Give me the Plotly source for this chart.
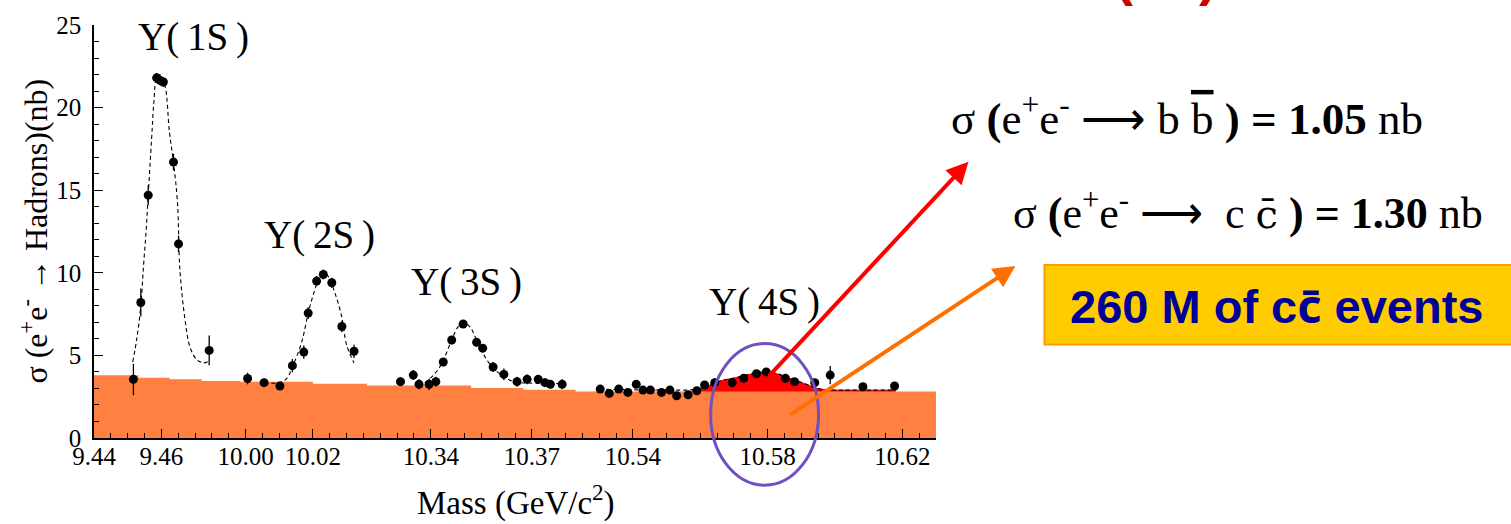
import plotly.graph_objects as go

# ---------------- data (mass in GeV/c^2, cross-section in nb) ----------------
# broken mass axis: each segment starts at a labelled mass, 0.005 GeV per minor tick
seg_start_mass = [9.44, 10.00, 10.34, 10.54]
seg_start_pos = [0, 9, 20, 32]
mass_per_tick = 0.005

tick_labels = ["9.44", "9.46", "10.00", "10.02", "10.34", "10.37", "10.54", "10.58", "10.62"]
tick_masses = [9.44, 9.46, 10.00, 10.02, 10.34, 10.37, 10.54, 10.58, 10.62]

# measured points
y1s_mass = [9.4517, 9.4539, 9.4561, 9.4586, 9.4596, 9.4606, 9.4636, 9.4651, 9.4742]
y1s_sigma = [3.55, 8.2, 14.7, 21.8, 21.65, 21.55, 16.7, 11.75, 5.3]
y1s_err = [0.95, 0.85, 0.6, 0.3, 0.3, 0.3, 0.5, 0.5, 0.9]

y2s_mass = [10.0006, 10.0055, 10.0102, 10.0139, 10.0173, 10.0186, 10.0211, 10.0231,
            10.0256, 10.0286, 10.0322]
y2s_sigma = [3.6, 3.35, 3.15, 4.38, 5.2, 7.56, 9.5, 9.9, 9.4, 6.75, 5.25]
y2s_err = [0.35, 0.25, 0.25, 0.4, 0.4, 0.35, 0.3, 0.3, 0.3, 0.35, 0.4]

y3s_mass = [10.3310, 10.3348, 10.3365, 10.3395, 10.3415, 10.3437, 10.3462, 10.3496,
            10.3536, 10.3554, 10.3585, 10.3617, 10.3656, 10.3686, 10.3719, 10.3739,
            10.3755, 10.3790]
y3s_sigma = [3.41, 3.81, 3.25, 3.25, 3.41, 4.6, 5.93, 6.9, 5.79, 5.44, 4.3, 3.85,
             3.41, 3.55, 3.55, 3.35, 3.25, 3.25]
y3s_err = [0.25, 0.3, 0.3, 0.35, 0.3, 0.25, 0.25, 0.2, 0.25, 0.25, 0.3, 0.35,
           0.3, 0.3, 0.25, 0.25, 0.2, 0.3]

y4s_mass = [10.5303, 10.5330, 10.5358, 10.5385, 10.5410, 10.5430, 10.5452, 10.5485,
            10.5510, 10.5530, 10.5564, 10.5590, 10.5613, 10.5643, 10.5695, 10.5729,
            10.5767, 10.5796, 10.5853, 10.5880, 10.5940, 10.5986, 10.6083, 10.6177]
y4s_sigma = [2.96, 2.7, 2.96, 2.76, 3.25, 2.9, 2.9, 2.76, 2.9, 2.56, 2.62, 2.86,
             3.21, 3.35, 3.35, 3.61, 3.89, 4.0, 3.61, 3.41, 3.35, 3.81, 3.1, 3.15]
y4s_err = [0.2, 0.2, 0.2, 0.2, 0.2, 0.2, 0.2, 0.2, 0.2, 0.2, 0.2, 0.2,
           0.2, 0.25, 0.2, 0.2, 0.2, 0.2, 0.2, 0.2, 0.2, 0.55, 0.2, 0.2]

# fitted line shapes (dashed)
fit1_mass = [9.4515, 9.4527, 9.4539, 9.4547, 9.4555, 9.4561, 9.4571, 9.4578, 9.4586,
             9.4596, 9.4611, 9.4624, 9.4636, 9.4648, 9.4655, 9.4670, 9.4685, 9.4705,
             9.4725, 9.4740]
fit1_sigma = [4.6, 6.0, 8.0, 10.4, 12.6, 14.7, 18.1, 20.4, 21.8, 22.0, 21.3, 18.5,
              16.7, 14.2, 10.2, 7.2, 5.5, 4.75, 4.55, 4.65]
fit2_mass = [10.0055, 10.0100, 10.0122, 10.0142, 10.0167, 10.0186, 10.0203, 10.0219,
             10.0231, 10.0245, 10.0265, 10.0285, 10.0300, 10.0322]
fit2_sigma = [3.35, 3.35, 3.6, 4.45, 5.83, 7.56, 8.8, 9.7, 10.0, 9.8, 8.8, 7.4, 5.64, 4.54]
fit3_mass = [10.3382, 10.3402, 10.3422, 10.3442, 10.3462, 10.3481, 10.3496, 10.3516,
             10.3536, 10.3560, 10.3585, 10.3615, 10.3640, 10.3669, 10.3793]
fit3_sigma = [3.35, 3.69, 4.15, 4.94, 5.93, 6.73, 6.98, 6.73, 5.93, 4.94, 4.24, 3.75,
              3.45, 3.35, 3.3]
fit4_mass = [10.5300, 10.5400, 10.5500, 10.5575, 10.5610, 10.5658, 10.5705, 10.5755,
             10.5795, 10.5835, 10.5875, 10.5915, 10.5945, 10.5975, 10.6050, 10.6180]
fit4_sigma = [2.95, 2.92, 2.9, 2.92, 3.05, 3.45, 3.65, 3.89, 4.0, 3.85, 3.55, 3.25,
              3.02, 2.92, 2.9, 2.9]
bb_start_mass = 10.5575  # b-bbar excess above the continuum

# continuum (stepped band)
cont_edges_mass = [9.44, 9.4532, 9.4625, 9.4720, 9.4833, 10.0200, 10.0360, 10.3520,
                   10.3675, 10.3830, 10.6300]
cont_sigma = [3.8, 3.65, 3.55, 3.45, 3.4, 3.28, 3.18, 3.03, 2.92, 2.82]

peak_labels = ["Υ(\u20091S\u2009)", "Υ(\u20092S\u2009)", "Υ(\u20093S\u2009)", "Υ(\u20094S\u2009)"]
peak_label_mass = [9.4694, 10.0220, 10.3507, 10.5791]
peak_label_sigma = [24.25, 12.3, 9.45, 8.25]


def pos(m):
    """position of a mass on the broken axis"""
    k = 0
    for i, s in enumerate(seg_start_mass):
        if m >= s - 0.1:
            k = i
    return seg_start_pos[k] + (m - seg_start_mass[k]) / mass_per_tick


def P(ms):
    return [pos(m) for m in ms]


# ---------------- figure ----------------
L, R_EDGE, T, B = 94, 936.5, 18, 438
W, H = R_EDGE - L, B - T
SERIF = "Liberation Serif, Times New Roman, serif"
SANS = "Liberation Sans, Arial, sans-serif"


def px(x):
    return (x - L) / W


def py(y):
    return (B - y) / H


fig = go.Figure()

# red b-bbar excess (drawn first, continuum covers its lower part)
bb_m = [m for m in fit4_mass if m >= bb_start_mass]
bb_s = [s for m, s in zip(fit4_mass, fit4_sigma) if m >= bb_start_mass]
fig.add_trace(go.Scatter(x=P(bb_m), y=bb_s, mode="lines", line=dict(color="#FF0000", width=1, shape="spline"),
                         fill="tozeroy", fillcolor="#FF0000", hoverinfo="skip"))

# continuum band
fig.add_trace(go.Scatter(x=P(cont_edges_mass), y=cont_sigma + [cont_sigma[-1]], mode="lines",
                         line=dict(color="#FF8040", width=0, shape="hv"),
                         fill="tozeroy", fillcolor="#FF8040", hoverinfo="skip"))

# fits
for fm, fs in [(fit1_mass, fit1_sigma), (fit2_mass, fit2_sigma), (fit3_mass, fit3_sigma), (fit4_mass, fit4_sigma)]:
    fig.add_trace(go.Scatter(x=P(fm), y=fs, mode="lines",
                             line=dict(color="black", width=1.1, dash="4px,3px", shape="spline"),
                             hoverinfo="skip"))

# data points
for dm, ds, de in [(y1s_mass, y1s_sigma, y1s_err), (y2s_mass, y2s_sigma, y2s_err),
                   (y3s_mass, y3s_sigma, y3s_err), (y4s_mass, y4s_sigma, y4s_err)]:
    fig.add_trace(go.Scatter(x=P(dm), y=ds, mode="markers",
                             marker=dict(color="black", size=9),
                             error_y=dict(type="data", array=de, color="black", thickness=1.3, width=0)))

annotations = []
for lab, m, s in zip(peak_labels, peak_label_mass, peak_label_sigma):
    annotations.append(dict(x=pos(m), y=s, xref="x", yref="y", text=lab, showarrow=False,
                            font=dict(family=SERIF, size=39, color="black"),
                            xanchor="center", yanchor="middle"))

# axis titles
annotations.append(dict(x=px(33), y=py(228), xref="paper", yref="paper", textangle=-90,
                        text="σ (e<sup>+</sup>e<sup>-</sup> → Hadrons)(nb)", showarrow=False,
                        font=dict(family=SERIF, size=32, color="black"), xanchor="center", yanchor="middle"))
annotations.append(dict(x=px(516), y=py(502), xref="paper", yref="paper",
                        text="Mass (GeV/c<sup>2</sup>)", showarrow=False,
                        font=dict(family=SERIF, size=33, color="black"), xanchor="center", yanchor="middle"))

OVL = '<span style="text-decoration:overline">{}</span>'
DJ = '<span style="font-family:DejaVu Serif;font-size:40px">{}</span>'
NOTO = '<span style="font-family:Noto Sans">{}</span>'
# cross-section texts
annotations.append(dict(x=px(950), y=py(110), xref="paper", yref="paper", xanchor="left", yanchor="middle",
                        text="σ <b>(</b>e<sup>+</sup>e<sup>-</sup> ⟶ b " + OVL.format("b") +
                             " <b>)</b> <b>=</b> <b>1.05</b> nb",
                        showarrow=False, font=dict(family=SERIF, size=45, color="black")))
annotations.append(dict(x=px(1012), y=py(207), xref="paper", yref="paper", xanchor="left", yanchor="middle",
                        text="σ <b>(</b>e<sup>+</sup>e<sup>-</sup> ⟶  c " + DJ.format("c\u0304") +
                             " <b>)</b> <b>=</b> <b>1.30</b> nb",
                        showarrow=False, font=dict(family=SERIF, size=44, color="black")))
annotations.append(dict(x=px(1278), y=py(303), xref="paper", yref="paper", xanchor="center", yanchor="middle",
                        text="<b>260 M of c" + NOTO.format("c\u0304") + " events</b>", showarrow=False,
                        font=dict(family=SANS, size=47, color="#000099")))

# cut-off title at the top
annotations.append(dict(x=px(1220), y=py(1), xref="paper", yref="paper", xanchor="right", yanchor="bottom",
                        text="<b>Charm at the Υ(4S)</b>", showarrow=False,
                        font=dict(family=SANS, size=54, color="#CC0000")))

# arrows
annotations.append(dict(x=px(969), y=py(157), xref="paper", yref="paper", ax=768 - 969, ay=373 - 157,
                        axref="pixel", ayref="pixel", text="", showarrow=True, arrowhead=2,
                        arrowsize=1.1, arrowwidth=4, arrowcolor="#FF0000"))
annotations.append(dict(x=px(1016), y=py(263), xref="paper", yref="paper", ax=789 - 1016, ay=413 - 263,
                        axref="pixel", ayref="pixel", text="", showarrow=True, arrowhead=2,
                        arrowsize=1.1, arrowwidth=4, arrowcolor="#FF6F00"))

shapes = [
    dict(type="rect", xref="paper", yref="paper", x0=px(1045), x1=px(1514), y0=py(343), y1=py(262),
         fillcolor="#FFCC00", line=dict(color="#FF9900", width=2)),
    dict(type="circle", xref="paper", yref="paper", x0=px(711), x1=px(819), y0=py(486), y1=py(342),
         line=dict(color="#6F4FC2", width=3)),
]

fig.update_layout(
    width=1511, height=524,
    margin=dict(l=L, r=1511 - R_EDGE, t=T, b=524 - B),
    paper_bgcolor="white", plot_bgcolor="white",
    showlegend=False,
    annotations=annotations, shapes=shapes,
    xaxis=dict(range=[0, 50], tickmode="array", tickvals=P(tick_masses), ticktext=tick_labels,
               ticks="inside", ticklen=9, tickcolor="black", tickwidth=1.2,
               minor=dict(tickmode="linear", tick0=0, dtick=1, ticks="inside", ticklen=5,
                          tickcolor="black", tickwidth=1.2),
               showline=True, linecolor="black", linewidth=1.5, showgrid=False, zeroline=False,
               tickfont=dict(family=SERIF, size=25, color="black"), ticklabelstandoff=-5),
    yaxis=dict(range=[0, 25], tickmode="linear", tick0=0, dtick=5,
               ticks="inside", ticklen=9, tickcolor="black", tickwidth=1.2,
               minor=dict(tickmode="linear", tick0=0, dtick=1, ticks="inside", ticklen=5,
                          tickcolor="black", tickwidth=1.2),
               showline=True, linecolor="black", linewidth=1.5, showgrid=False, zeroline=False,
               tickfont=dict(family=SERIF, size=25, color="black"), ticklabelstandoff=6),
)

fig.write_html("out.html")
